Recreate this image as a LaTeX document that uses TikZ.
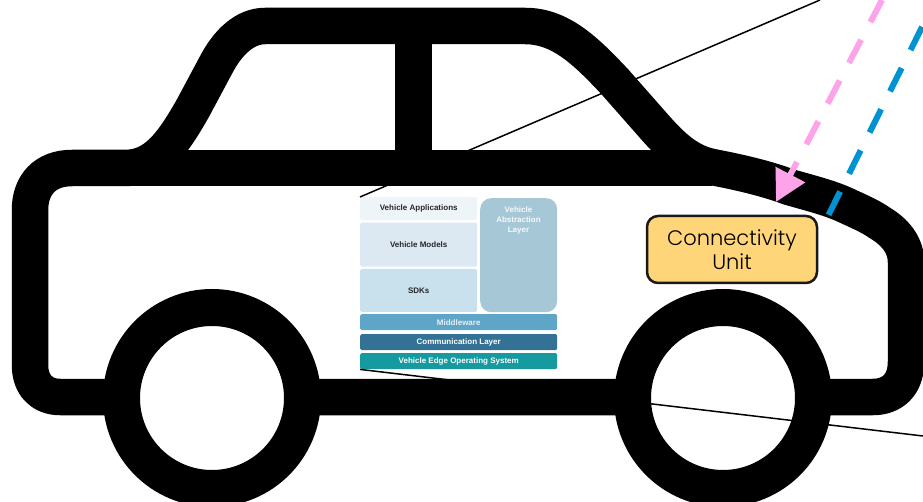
\documentclass[tikz,border=0pt]{standalone}
\usepackage{fontspec}
\setmainfont{Liberation Sans}
\newfontfamily\labelfont{Poppins Light}
\usetikzlibrary{arrows.meta,positioning}
\definecolor{appfill}{HTML}{EEF5F9}
\definecolor{modelfill}{HTML}{DCE9F3}
\definecolor{sdkfill}{HTML}{C9E1EC}
\definecolor{absfill}{HTML}{A6C7D6}
\definecolor{midfill}{HTML}{5FA5C8}
\definecolor{commfill}{HTML}{337294}
\definecolor{osfill}{HTML}{149A9F}
\definecolor{unitfill}{HTML}{FFD57A}
\definecolor{pinkline}{HTML}{FCA3EA}
\definecolor{blueline}{HTML}{0093D2}

\begin{document}
\begin{tikzpicture}[
    x=1pt, y=-1pt,
    node distance=2pt and 3pt,
    carline/.style={line width=36.5pt, line join=round, black},
    layer/.style={inner sep=0pt, rounded corners=1.5pt, minimum width=117pt,
                  font=\fontsize{8}{9}\selectfont\bfseries, text=black!85},
    bar/.style={inner sep=0pt, rounded corners=1.5pt, minimum width=197pt, minimum height=16pt,
                font=\fontsize{8}{9}\selectfont\bfseries, text=white},
    thinline/.style={line width=1.5pt, black},
    link/.style={line width=6pt, dash pattern=on 26pt off 20pt}
]
\useasboundingbox (0,0) rectangle (923,502);
\clip (0,0) rectangle (923,502);

% car
\draw[carline] (120,397) -- (60,397) .. controls (42,397) and (30,385) .. (30,365) -- (30,210)
    .. controls (30,185) and (45,168) .. (72,168) -- (125,168)
    .. controls (155,168) and (172,145) .. (193,108) -- (216,65)
    .. controls (228,42) and (245,26) .. (265,26) -- (525,26)
    .. controls (560,26) and (585,50) .. (615,82) -- (652,124)
    .. controls (672,147) and (688,162) .. (712,167)
    .. controls (738,172) and (765,178) .. (789,187)
    .. controls (810,193) and (830,198) .. (845,205)
    .. controls (858,211) and (870,216) .. (880,223)
    .. controls (895,232) and (906,245) .. (906,262) -- (906,362)
    .. controls (906,385) and (892,397) .. (873,397) -- cycle;
\draw[carline] (72,168) -- (712,168);
\draw[carline] (413.5,26) -- (413.5,168);
\draw[line width=37pt, fill=white] (212,398) circle (90.5);
\draw[line width=37pt, fill=white] (723,398) circle (90.5);

% stack
\node[layer, anchor=north west, minimum height=23pt, fill=appfill] (apps) at (360,197) {Vehicle Applications};
\node[layer, below=2pt of apps, minimum height=44pt, fill=modelfill] (models) {Vehicle Models};
\node[layer, below=2pt of models, minimum height=43pt, fill=sdkfill] (sdks) {SDKs};
\node[anchor=north west, inner sep=0pt, rounded corners=11pt, minimum width=77pt, minimum height=114pt,
      fill=absfill] (abstraction) at (480,198) {};
\node[anchor=north, align=center, text=white!90!absfill, inner sep=0pt,
      font=\fontsize{8}{10}\selectfont\bfseries] (abstext) at (518.5,207) {Vehicle\\Abstraction\\Layer};
\node[bar, anchor=north west, fill=midfill, text=white!85!midfill] (middleware) at (360,314) {Middleware};
\node[bar, anchor=north west, fill=commfill] (comm) at (360,334) {Communication Layer};
\node[bar, anchor=north west, fill=osfill] (os) at (360,353) {Vehicle Edge Operating System};

% unit
\node[draw=black!90, line width=2.5pt, fill=unitfill, rounded corners=11pt, align=center,
      minimum width=170pt, minimum height=67pt, inner sep=0pt,
      font=\fontsize{21}{24}\selectfont\labelfont] (unit) at (732,249.5) {Connectivity\\Unit};

% zoom lines and links
\coordinate (topzoom) at (820,0);
\coordinate (botzoom) at (923,436);
\coordinate (pinkstart) at (882,0);
\coordinate (pinkend) at (776,202);
\coordinate (bluestart) at (935.5,0);
\coordinate (blueend) at (828,216);
\draw[thinline] (apps.north west) -- (topzoom);
\draw[thinline] (os.south west) -- (botzoom);
\draw[link, pinkline, dash phase=1pt, -{Triangle[length=31pt, width=32pt]}] (pinkstart) -- (pinkend);
\draw[link, blueline, dash phase=16pt] (bluestart) -- (blueend);
\end{tikzpicture}
\end{document}
